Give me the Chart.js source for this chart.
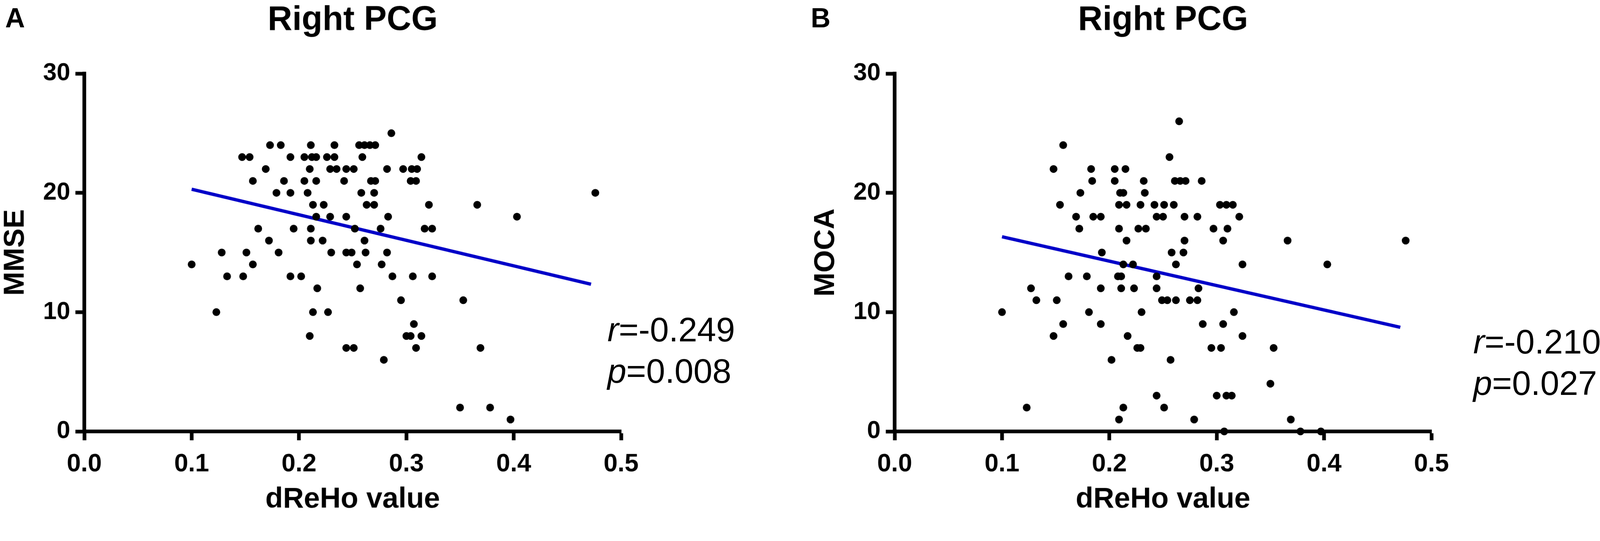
<!DOCTYPE html>
<html>
<head>
<meta charset="utf-8">
<script src="https://cdn.jsdelivr.net/npm/chart.js@4.4.0/dist/chart.umd.min.js"></script>
<style>
  html, body { margin: 0; padding: 0; background: #fff; overflow: hidden; }
  #page { width: 4328px; height: 1385px; position: relative; overflow: hidden; transform-origin: 0 0;
          font-family: "Liberation Sans", Arial, sans-serif; color: #000; background: #fff; }
  canvas { position: absolute; top: 0; }
  #chartA { left: 0; }
  #chartB { left: 2192px; }
  .letter { position: absolute; top: 12px; font-weight: bold; font-size: 74px; line-height: 74px; }
  .stats { position: absolute; font-size: 92px; line-height: 112px; white-space: nowrap; }
</style>
</head>
<body>
<div id="page">
<canvas id="chartA" width="2136" height="1440"></canvas>
<canvas id="chartB" width="2136" height="1440"></canvas>
<div class="letter" style="left:14px">A</div>
<div class="letter" style="left:2193px">B</div>
<div class="stats" style="left:1643px; top:835px"><i>r</i>=-0.249<br><i>p</i>=0.008</div>
<div class="stats" style="left:3985px; top:868px"><i>r</i>=-0.210<br><i>p</i>=0.027</div>
</div>
<script>
// tick values
const xTicks = [0, 0.1, 0.2, 0.3, 0.4, 0.5];
const yTicks = [0, 10, 20, 30];

// Panel A: dReHo value vs MMSE (one line per score level)
const mmseX = [
    0.286,
    0.173, 0.183, 0.211, 0.233, 0.256, 0.261, 0.266, 0.271,
    0.147, 0.154, 0.192, 0.205, 0.212, 0.216, 0.226, 0.233, 0.259, 0.314,
    0.169, 0.210, 0.229, 0.235, 0.244, 0.251, 0.282, 0.297, 0.305, 0.310,
    0.157, 0.186, 0.205, 0.216, 0.242, 0.267, 0.271, 0.304, 0.309,
    0.179, 0.192, 0.208, 0.258, 0.270, 0.476,
    0.213, 0.223, 0.263, 0.270, 0.321, 0.366,
    0.216, 0.229, 0.244, 0.283, 0.403,
    0.162, 0.195, 0.211, 0.252, 0.276, 0.317, 0.324,
    0.172, 0.211, 0.222, 0.261,
    0.128, 0.151, 0.181, 0.230, 0.244, 0.249, 0.262, 0.282,
    0.100, 0.157, 0.254, 0.277,
    0.133, 0.148, 0.192, 0.202, 0.287, 0.306, 0.324,
    0.217, 0.257,
    0.295, 0.353,
    0.123, 0.213, 0.227,
    0.307,
    0.210, 0.300, 0.304, 0.314,
    0.244, 0.251, 0.309, 0.369,
    0.279,
    0.350, 0.378,
    0.397
];
const mmseY = [
    25,
    24, 24, 24, 24, 24, 24, 24, 24,
    23, 23, 23, 23, 23, 23, 23, 23, 23, 23,
    22, 22, 22, 22, 22, 22, 22, 22, 22, 22,
    21, 21, 21, 21, 21, 21, 21, 21, 21,
    20, 20, 20, 20, 20, 20,
    19, 19, 19, 19, 19, 19,
    18, 18, 18, 18, 18,
    17, 17, 17, 17, 17, 17, 17,
    16, 16, 16, 16,
    15, 15, 15, 15, 15, 15, 15, 15,
    14, 14, 14, 14,
    13, 13, 13, 13, 13, 13, 13,
    12, 12,
    11, 11,
    10, 10, 10,
    9,
    8, 8, 8, 8,
    7, 7, 7, 7,
    6,
    2, 2,
    1
];

// Panel B: dReHo value vs MOCA
const mocaX = [
    0.265,
    0.157,
    0.256,
    0.148, 0.183, 0.205, 0.215,
    0.184, 0.205, 0.232, 0.261, 0.266, 0.271, 0.286,
    0.173, 0.210, 0.213, 0.233,
    0.154, 0.209, 0.216, 0.229, 0.242, 0.251, 0.260, 0.303, 0.309, 0.315,
    0.169, 0.185, 0.192, 0.244, 0.250, 0.270, 0.282, 0.321,
    0.172, 0.209, 0.227, 0.234, 0.297, 0.310,
    0.216, 0.270, 0.306, 0.366, 0.476,
    0.193, 0.258, 0.269,
    0.213, 0.222, 0.262, 0.324, 0.403,
    0.162, 0.179, 0.208, 0.211, 0.244,
    0.127, 0.192, 0.211, 0.223, 0.244, 0.283,
    0.132, 0.151, 0.249, 0.254, 0.262, 0.275, 0.282,
    0.100, 0.181, 0.230, 0.316,
    0.157, 0.192, 0.287, 0.306,
    0.148, 0.217, 0.324,
    0.226, 0.229, 0.295, 0.304, 0.353,
    0.202, 0.257,
    0.350,
    0.244, 0.300, 0.309, 0.314,
    0.123, 0.213, 0.251,
    0.209, 0.279, 0.369,
    0.307, 0.378, 0.397
];
const mocaY = [
    26,
    24,
    23,
    22, 22, 22, 22,
    21, 21, 21, 21, 21, 21, 21,
    20, 20, 20, 20,
    19, 19, 19, 19, 19, 19, 19, 19, 19, 19,
    18, 18, 18, 18, 18, 18, 18, 18,
    17, 17, 17, 17, 17, 17,
    16, 16, 16, 16, 16,
    15, 15, 15,
    14, 14, 14, 14, 14,
    13, 13, 13, 13, 13,
    12, 12, 12, 12, 12, 12,
    11, 11, 11, 11, 11, 11, 11,
    10, 10, 10, 10,
    9, 9, 9, 9,
    8, 8, 8,
    7, 7, 7, 7, 7,
    6, 6,
    4,
    3, 3, 3, 3,
    2, 2, 2,
    1, 1, 1,
    0, 0, 0
];

// fitted regression lines (end points)
const fitAX = [0.100, 0.472];
const fitAY = [20.3, 12.34];
const fitBX = [0.100, 0.471];
const fitBY = [16.32, 8.73];

const FONT = '"Liberation Sans", Arial, sans-serif';
Chart.defaults.font.family = FONT;
Chart.defaults.color = '#000';

// fit the 4328x1385 page into whatever viewport we get
const pageScale = Math.min(window.innerWidth / 4328, window.innerHeight / 1385) || 1;
document.getElementById('page').style.transform = 'scale(' + pageScale + ')';

function pairs(xs, ys) {
    return xs.map((x, i) => ({ x: x, y: ys[i] }));
}

// Function to build one panel
function makePanel(id, xs, ys, fitX, fitY, yLabel) {
    const ctx = document.getElementById(id).getContext('2d');
    return new Chart(ctx, {
        type: 'scatter',
        data: {
            datasets: [{
                data: pairs(xs, ys),
                backgroundColor: '#000',
                borderWidth: 0,
                pointRadius: 10.5,
                pointHoverRadius: 10.5,
                clip: false,
                order: 0,
            }, {
                type: 'line',
                data: pairs(fitX, fitY),
                borderColor: '#0000c8',
                borderWidth: 9,
                pointRadius: 0,
                fill: false,
                tension: 0,
                order: 1,
            }],
        },
        options: {
            responsive: false,
            devicePixelRatio: 1,
            animation: false,
            events: [],
            layout: {
                padding: { left: 0, right: 456, top: 0, bottom: 0 },
            },
            plugins: {
                legend: { display: false },
                tooltip: { enabled: false },
                title: {
                    display: true,
                    text: 'Right PCG',
                    fullSize: false,
                    color: '#000',
                    font: { size: 92, weight: 'bold', lineHeight: 1 },
                    padding: { top: 10, bottom: 97 },
                },
            },
            scales: {
                x: {
                    type: 'linear',
                    min: 0,
                    max: 0.5,
                    afterBuildTicks: (s) => { s.ticks = xTicks.map(v => ({ value: v })); },
                    afterFit: (s) => { s.height = 273; },
                    ticks: {
                        callback: (v) => v.toFixed(1),
                        font: { size: 68, weight: 'bold' },
                        color: '#000',
                        padding: 24,
                        maxRotation: 0,
                        autoSkip: false,
                    },
                    grid: { drawOnChartArea: false, drawTicks: true, tickLength: 24, tickWidth: 10, tickColor: '#000' },
                    border: { display: true, width: 10, color: '#000' },
                    title: {
                        display: true,
                        text: 'dReHo value',
                        color: '#000',
                        font: { size: 78, weight: 'bold', lineHeight: 1 },
                        padding: { top: 0, bottom: 50 },
                    },
                },
                y: {
                    type: 'linear',
                    min: 0,
                    max: 30,
                    afterBuildTicks: (s) => { s.ticks = yTicks.map(v => ({ value: v })); },
                    afterFit: (s) => { s.width = 228; },
                    ticks: {
                        font: { size: 66, weight: 'bold' },
                        color: '#000',
                        padding: 14,
                    },
                    grid: { drawOnChartArea: false, drawTicks: true, tickLength: 24, tickWidth: 10, tickColor: '#000' },
                    border: { display: true, width: 10, color: '#000' },
                    title: {
                        display: true,
                        text: yLabel,
                        color: '#000',
                        font: { size: 78, weight: 'bold', lineHeight: 1 },
                        padding: { top: 3, bottom: 0 },
                    },
                },
            },
        },
    });
}

makePanel('chartA', mmseX, mmseY, fitAX, fitAY, 'MMSE');
makePanel('chartB', mocaX, mocaY, fitBX, fitBY, 'MOCA');
</script>
</body>
</html>
